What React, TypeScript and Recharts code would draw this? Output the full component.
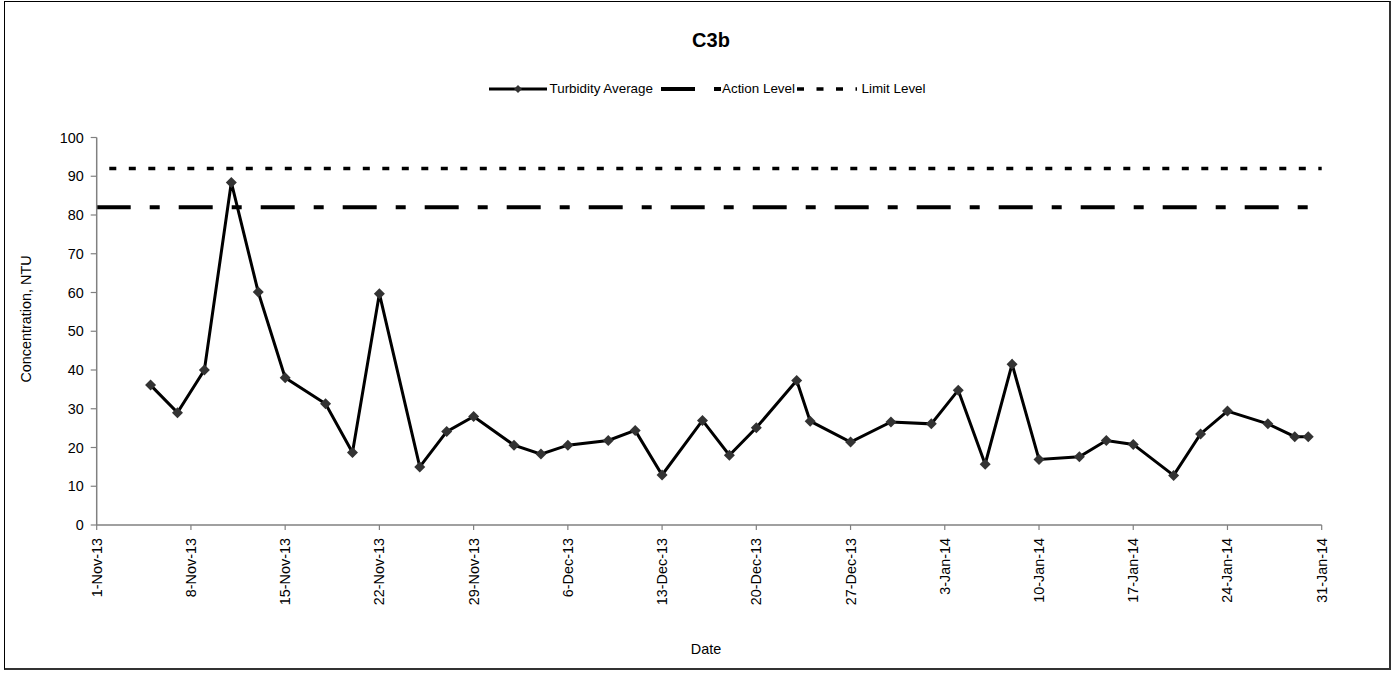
import React from 'react';
import { LineChart, Line, XAxis, YAxis } from 'recharts';

const TURB_DATES = [
  '2013-11-05', '2013-11-07', '2013-11-09', '2013-11-11', '2013-11-13', '2013-11-15',
  '2013-11-18', '2013-11-20', '2013-11-22', '2013-11-25', '2013-11-27', '2013-11-29',
  '2013-12-02', '2013-12-04', '2013-12-06', '2013-12-09', '2013-12-11', '2013-12-13',
  '2013-12-16', '2013-12-18', '2013-12-20', '2013-12-23', '2013-12-24', '2013-12-27',
  '2013-12-30', '2014-01-02', '2014-01-04', '2014-01-06', '2014-01-08', '2014-01-10',
  '2014-01-13', '2014-01-15', '2014-01-17', '2014-01-20', '2014-01-22', '2014-01-24',
  '2014-01-27', '2014-01-29', '2014-01-30',
];
const TURB_VALUES = [
  36.1, 29.0, 40.0, 88.4, 60.1, 38.0,
  31.3, 18.7, 59.7, 15.0, 24.1, 28.0,
  20.6, 18.3, 20.6, 21.8, 24.4, 12.9,
  27.0, 18.0, 25.1, 37.3, 26.8, 21.4,
  26.6, 26.1, 34.8, 15.7, 41.5, 16.9,
  17.6, 21.8, 20.8, 12.8, 23.5, 29.4,
  26.1, 22.8, 22.8,
];
const LEVEL_DATES = ['2013-11-01', '2014-01-31'];
const ACTION_LEVEL = [82, 82];
const LIMIT_LEVEL = [92, 92];
const X_TICK_DATES = [
  '2013-11-01', '2013-11-08', '2013-11-15', '2013-11-22', '2013-11-29', '2013-12-06',
  '2013-12-13', '2013-12-20', '2013-12-27', '2014-01-03', '2014-01-10', '2014-01-17',
  '2014-01-24', '2014-01-31',
];
const Y_TICKS = [0, 10, 20, 30, 40, 50, 60, 70, 80, 90, 100];
const MONTHS = ['Jan', 'Feb', 'Mar', 'Apr', 'May', 'Jun', 'Jul', 'Aug', 'Sep', 'Oct', 'Nov', 'Dec'];

const FONT = '"Liberation Sans", Arial, Helvetica, sans-serif';
const DAY = 86400000;

const toDay = (s: string) => {
  const [y, m, d] = s.split('-').map(Number);
  return Date.UTC(y, m - 1, d) / DAY;
};
const fmtDay = (v: number) => {
  const dt = new Date(v * DAY);
  return `${dt.getUTCDate()}-${MONTHS[dt.getUTCMonth()]}-${String(dt.getUTCFullYear()).slice(2)}`;
};

const turbData = TURB_DATES.map((d, i) => ({ x: toDay(d), v: TURB_VALUES[i] }));
const actionData = LEVEL_DATES.map((d, i) => ({ x: toDay(d), v: ACTION_LEVEL[i] }));
const limitData = LEVEL_DATES.map((d, i) => ({ x: toDay(d), v: LIMIT_LEVEL[i] }));
const xTicks = X_TICK_DATES.map(toDay);

const Diamond = (props: any) => {
  const { cx, cy, index } = props;
  if (cx == null || cy == null) return null;
  const r = 5.5;
  return (
    <path
      key={`d-${index}`}
      d={`M${cx},${cy - r}L${cx + r},${cy}L${cx},${cy + r}L${cx - r},${cy}Z`}
      fill="#333333"
      stroke="none"
    />
  );
};

const XTick = (props: any) => {
  const { x, y, payload } = props;
  return (
    <text
      x={x}
      y={y}
      transform={`rotate(-90, ${x}, ${y})`}
      textAnchor="end"
      dominantBaseline="central"
      fontFamily={FONT}
      fontSize={14.4}
      fill="#000"
    >
      {fmtDay(payload.value)}
    </text>
  );
};

const YLabel = () => (
  <text
    x={26}
    y={319}
    transform="rotate(-90, 26, 319)"
    textAnchor="middle"
    dominantBaseline="central"
    fontFamily={FONT}
    fontSize={14.4}
    fill="#000"
  >
    Concentration, NTU
  </text>
);

const XLabel = () => (
  <text x={706} y={649} textAnchor="middle" dominantBaseline="central" fontFamily={FONT} fontSize={14.4} fill="#000">
    Date
  </text>
);

const legendText: React.CSSProperties = {
  position: 'absolute',
  top: 80,
  fontFamily: FONT,
  fontSize: 13.4,
  lineHeight: '18px',
  color: '#000',
  whiteSpace: 'nowrap',
};

export default function App() {
  return (
    <div style={{ position: 'absolute', left: 0, top: 0, width: 1395, height: 675, background: '#fff' }}>
      <div
        style={{
          position: 'absolute',
          left: 3.5,
          top: 0.5,
          width: 1387,
          height: 669,
          boxSizing: 'border-box',
          border: '1.2px solid #000',
          borderRightWidth: 2,
          borderBottomWidth: 2,
          borderRightColor: '#333',
          borderBottomColor: '#333',
        }}
      />
      <svg style={{ position: 'absolute', left: 0, top: 0 }} width={1395} height={60}>
        <text x={711} y={47.3} textAnchor="middle" fontFamily={FONT} fontWeight="bold" fontSize={20} fill="#000">
          C3b
        </text>
      </svg>
      {/* Legend */}
      <svg style={{ position: 'absolute', left: 0, top: 79 }} width={1395} height={20}>
        <line x1={489} y1={10} x2={547} y2={10} stroke="#000" strokeWidth={3} />
        <path d="M518,6L522,10L518,14L514,10Z" fill="#333" />
        <line x1={661} y1={10} x2={721} y2={10} stroke="#000" strokeWidth={4} strokeDasharray="34 19 10 19" />
        <line x1={797} y1={10} x2={857} y2={10} stroke="#000" strokeWidth={3.4} strokeDasharray="7 12.5" />
      </svg>
      <div style={{ ...legendText, left: 549.5 }}>Turbidity Average</div>
      <div style={{ ...legendText, left: 722 }}>Action Level</div>
      <div style={{ ...legendText, left: 861.5 }}>Limit Level</div>
      <div style={{ position: 'absolute', left: 0, top: 0 }}>
        <LineChart width={1395} height={675} margin={{ top: 137.5, right: 73.3, bottom: 0, left: 0 }}>
          <XAxis
            type="number"
            dataKey="x"
            domain={[xTicks[0], xTicks[xTicks.length - 1]]}
            ticks={xTicks}
            interval={0}
            allowDuplicatedCategory={false}
            height={150}
            tickSize={5}
            tickMargin={8}
            tick={<XTick />}
            stroke="#808080"
            axisLine={{ stroke: '#808080', strokeWidth: 1.5 }}
            tickLine={{ stroke: '#808080', strokeWidth: 1.2 }}
            label={{ content: XLabel }}
          />
          <YAxis
            type="number"
            dataKey="v"
            domain={[0, 100]}
            ticks={Y_TICKS}
            interval={0}
            width={96.7}
            tickSize={6}
            tickMargin={7}
            tick={{ fontFamily: FONT, fontSize: 14.4, fill: '#000' }}
            axisLine={{ stroke: '#808080', strokeWidth: 1.5 }}
            tickLine={{ stroke: '#808080', strokeWidth: 1.2 }}
            label={{ content: YLabel }}
          />
          <Line
            data={limitData}
            dataKey="v"
            name="Limit Level"
            type="linear"
            stroke="#000"
            strokeWidth={3.4}
            strokeDasharray="7 12.5"
            strokeDashoffset={6.9}
            dot={false}
            activeDot={false}
            isAnimationActive={false}
          />
          <Line
            data={actionData}
            dataKey="v"
            name="Action Level"
            type="linear"
            stroke="#000"
            strokeWidth={4}
            strokeDasharray="34 19 10 19"
            dot={false}
            activeDot={false}
            isAnimationActive={false}
          />
          <Line
            data={turbData}
            dataKey="v"
            name="Turbidity Average"
            type="linear"
            stroke="#000"
            strokeWidth={3}
            dot={Diamond}
            activeDot={false}
            isAnimationActive={false}
          />
        </LineChart>
      </div>
    </div>
  );
}
